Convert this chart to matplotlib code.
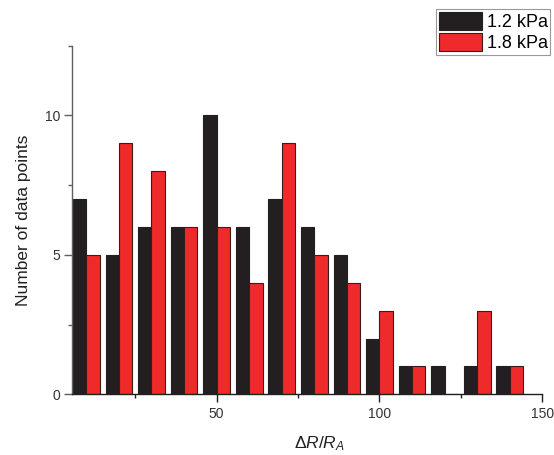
import matplotlib
matplotlib.use("Agg")
import matplotlib.pyplot as plt
from matplotlib.ticker import MultipleLocator
import numpy as np

plt.rcParams['font.family'] = ['Liberation Sans', 'DejaVu Sans']
plt.rcParams['mathtext.fontset'] = 'custom'
plt.rcParams['mathtext.rm'] = 'Liberation Sans'
plt.rcParams['mathtext.it'] = 'Liberation Sans:italic'

centers = [10, 20, 30, 40, 50, 60, 70, 80, 90, 100, 110, 120, 130, 140]
counts_12 = [7, 5, 6, 6, 10, 6, 7, 6, 5, 2, 1, 1, 1, 1]
counts_18 = [5, 9, 8, 6, 6, 4, 9, 5, 4, 3, 1, 0, 3, 1]
labels = ['1.2 kPa', '1.8 kPa']

fig = plt.figure(figsize=(5.54, 4.55), dpi=100)
ax = fig.add_axes([71.7/554, 1-394.3/455, (542.3-71.7)/554, (394.3-45.7)/455])

w = 4.1
x = np.array(centers, dtype=float)
ax.bar(x - w, counts_12, width=w, align='edge', color='#231f20', edgecolor='#231f20', linewidth=0.8, label=labels[0])
ax.bar(x, counts_18, width=w, align='edge', color='#ee2a2a', edgecolor='#3a1a1a', linewidth=0.8, label=labels[1])

ax.set_xlim(5.5, 150)
ax.set_ylim(0, 12.5)
ax.xaxis.set_major_locator(MultipleLocator(50))
ax.xaxis.set_minor_locator(MultipleLocator(25))
ax.yaxis.set_major_locator(MultipleLocator(5))
ax.yaxis.set_minor_locator(MultipleLocator(2.5))

for s in ['top', 'right']:
    ax.spines[s].set_visible(False)
ax.spines['left'].set_color('#606060')
ax.spines['bottom'].set_color('#202020')
ax.spines['left'].set_linewidth(1.0)
ax.spines['bottom'].set_linewidth(1.0)

ax.tick_params(axis='y', which='major', length=6, width=1, color='#606060', labelsize=10, labelcolor='#333333', pad=2)
ax.tick_params(axis='y', which='minor', length=3, width=1, color='#606060')
ax.tick_params(axis='x', which='major', length=5.5, width=1, color='#202020', labelsize=10, labelcolor='#333333', pad=4)
ax.tick_params(axis='x', which='minor', length=3, width=1, color='#202020')

ax.set_ylabel('Number of data points', fontsize=12.5, color='#222222', labelpad=10)
ax.set_xlabel(r'$\mathrm{\Delta} R/R_A$', fontsize=12.5, color='#222222')
ax.xaxis.set_label_coords(0.5 + 12/470.6, -0.114, transform=ax.transAxes)
ax.xaxis.label.set_verticalalignment('top')

leg = fig.legend(loc='upper left', bbox_to_anchor=(436/554, 1-9.3/455), fontsize=13,
                 frameon=True, fancybox=False, shadow=False, borderpad=0.15,
                 handlelength=2.4, handleheight=1.15, handletextpad=0.25,
                 labelspacing=0.1, borderaxespad=0)
leg.get_frame().set_edgecolor('#808080')
leg.get_frame().set_linewidth(0.8)

fig.savefig('out.png', dpi=100)
